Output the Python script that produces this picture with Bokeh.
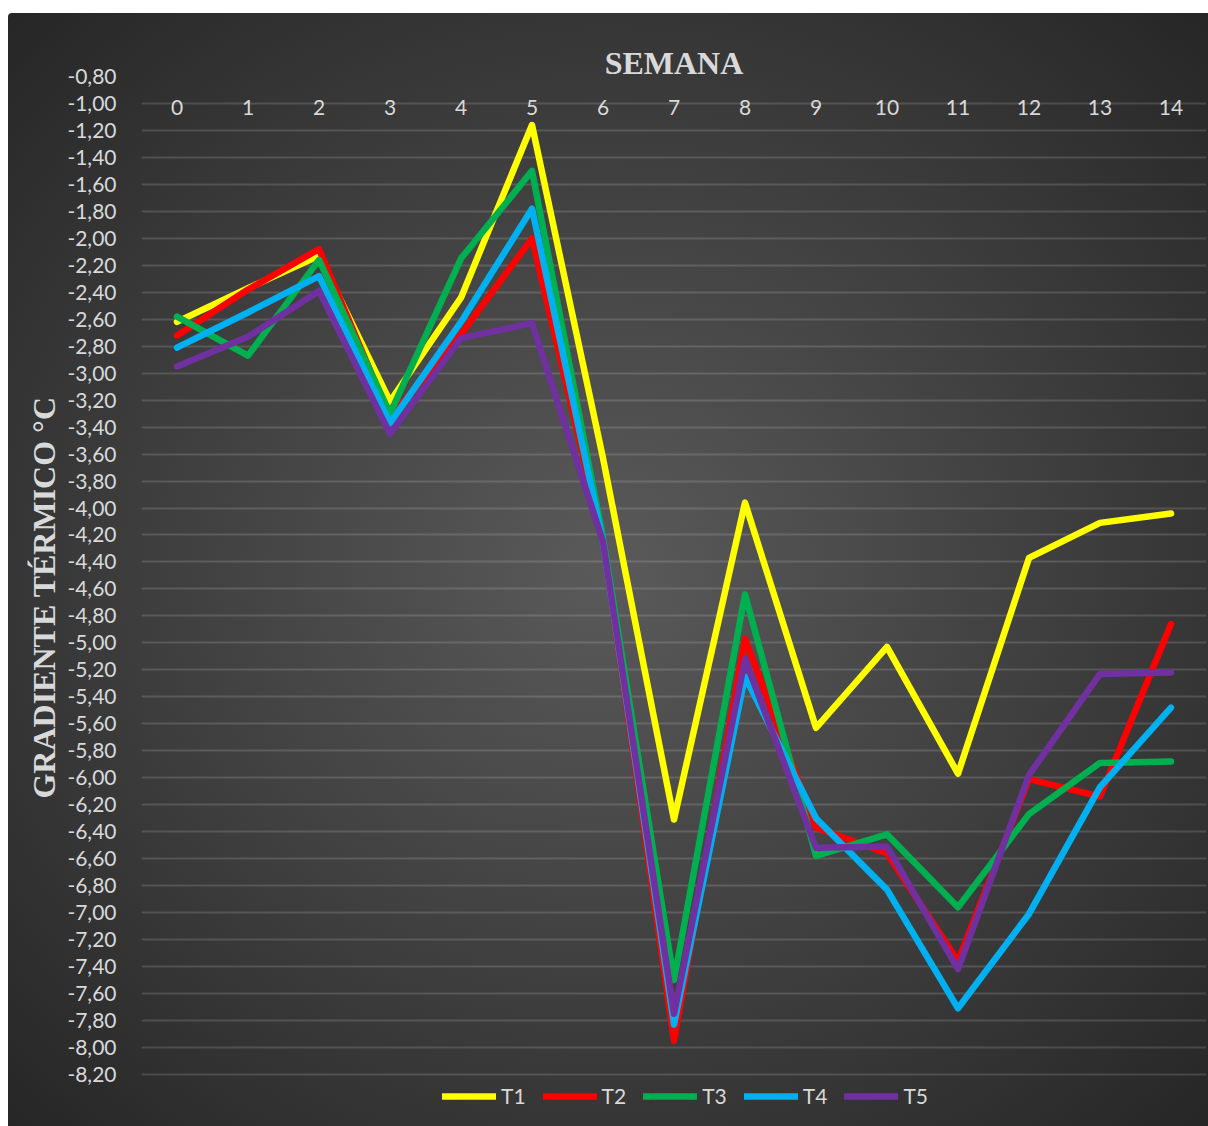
from bokeh.plotting import figure
from bokeh.models import Range1d, FixedTicker, Legend, LegendItem
from bokeh.embed import file_html
from bokeh.resources import INLINE

# ---- data ----
weeks = [0, 1, 2, 3, 4, 5, 6, 7, 8, 9, 10, 11, 12, 13, 14]
series_names = ["T1", "T2", "T3", "T4", "T5"]
T1 = [-2.62, -2.37, -2.13, -3.21, -2.44, -1.16, -3.63, -6.31, -3.96, -5.63, -5.03, -5.97, -4.37, -4.11, -4.04]
T2 = [-2.72, -2.38, -2.08, -3.33, -2.71, -2.00, -4.24, -7.95, -4.97, -6.37, -6.56, -7.36, -6.01, -6.14, -4.86]
T3 = [-2.58, -2.87, -2.16, -3.30, -2.15, -1.50, -4.22, -7.50, -4.64, -6.58, -6.42, -6.96, -6.27, -5.89, -5.88]
T4 = [-2.81, -2.55, -2.28, -3.37, -2.62, -1.78, -4.25, -7.83, -5.25, -6.30, -6.83, -7.71, -7.01, -6.07, -5.48]
T5 = [-2.95, -2.73, -2.39, -3.45, -2.74, -2.63, -4.25, -7.75, -5.12, -6.52, -6.51, -7.42, -5.98, -5.23, -5.22]
colors = ["#FFFF00", "#FF0000", "#00B050", "#00B0F0", "#7030A0"]

y_ticks = [round(-0.8 - 0.2 * i, 2) for i in range(38)]
y_tick_labels = {t: ("%.2f" % t).replace(".", ",") for t in y_ticks}

x_title = "SEMANA"
y_title = "GRADIENTE TÉRMICO °C"

TXT = "#d9d9d9"

# the frame runs on below the last grid line (-8,20) to hold the legend
p = figure(width=1200, height=1113, output_backend="svg", toolbar_location=None,
           x_range=Range1d(-0.5, 14.5), y_range=Range1d(-8.527, -0.8),
           x_axis_location="above",
           min_border_left=133, min_border_right=2, min_border_top=63, min_border_bottom=8,
           margin=(13, 0, 0, 8))

p.styles = {"background": "radial-gradient(ellipse farthest-corner at 50% 50%, #5a5a5a 0%, #262626 100%)",
            "border-radius": "4px 0 0 0"}
p.background_fill_alpha = 0
p.border_fill_alpha = 0
p.outline_line_color = None

renderers = []
for name, ys, c in zip(series_names, [T1, T2, T3, T4, T5], colors):
    r = p.line(weeks, ys, line_color=c, line_width=6.5, line_join="round", line_cap="round")
    renderers.append(r)

# y axis
yax = p.yaxis[0]
yax.ticker = FixedTicker(ticks=y_ticks)
yax.major_label_overrides = y_tick_labels
yax.major_tick_line_color = None
yax.minor_tick_line_color = None
yax.axis_line_color = None
yax.major_label_text_font = "Lato"
yax.major_label_text_font_size = "21px"
yax.major_label_text_color = TXT
yax.major_label_standoff = 19
yax.axis_label = y_title
yax.axis_label_text_font = "Liberation Serif"
yax.axis_label_text_font_style = "bold"
yax.axis_label_text_font_size = "32px"
yax.axis_label_text_color = TXT
yax.axis_label_standoff = 2

# x axis (top)
xax = p.xaxis[0]
xax.ticker = FixedTicker(ticks=weeks)
xax.major_tick_line_color = None
xax.minor_tick_line_color = None
xax.axis_line_color = None
xax.major_label_text_font = "Lato"
xax.major_label_text_font_size = "21px"
xax.major_label_text_color = TXT
xax.major_label_standoff = -44
xax.axis_label = x_title
xax.axis_label_text_font = "Liberation Serif"
xax.axis_label_text_font_style = "bold"
xax.axis_label_text_font_size = "32px"
xax.axis_label_text_color = TXT
xax.axis_label_standoff = 16

p.xgrid.visible = False
p.ygrid.grid_line_color = "#ffffff"
p.ygrid.grid_line_alpha = 0.14
p.ygrid.grid_line_width = 2

legend = Legend(items=[LegendItem(label=n, renderers=[r]) for n, r in zip(series_names, renderers)],
                orientation="horizontal", location=(301, 10),
                background_fill_alpha=0, border_line_color=None,
                label_text_color=TXT, label_text_font="Lato", label_text_font_size="21px",
                glyph_width=54, glyph_height=20, label_standoff=5, spacing=17,
                padding=6, margin=0)
p.add_layout(legend, "center")

open("out.html", "w").write(file_html(p, INLINE))
